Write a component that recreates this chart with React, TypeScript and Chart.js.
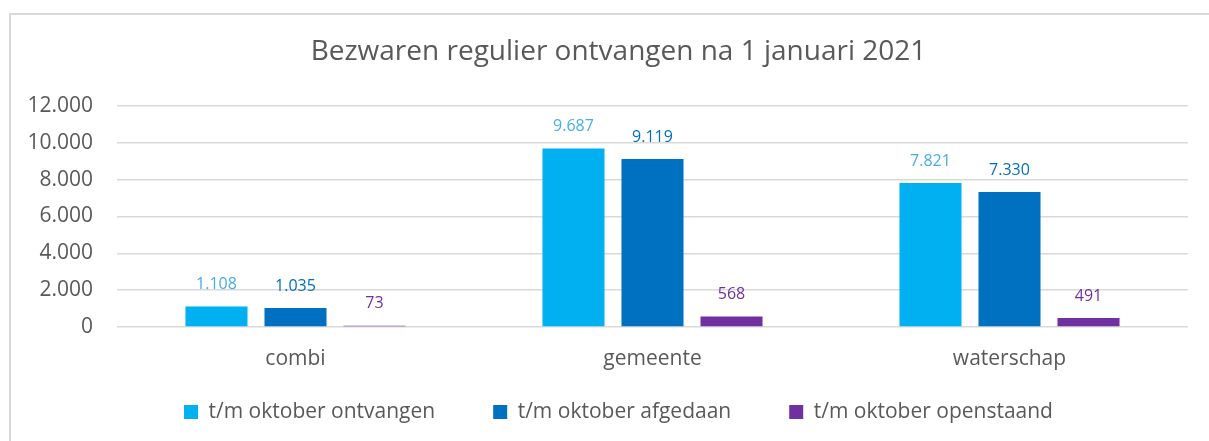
import React, { useEffect, useRef } from "react";
import { Chart, registerables } from "chart.js";

Chart.register(...registerables);

const categories = ["combi", "gemeente", "waterschap"];
const seriesNames = ["t/m oktober ontvangen", "t/m oktober afgedaan", "t/m oktober openstaand"];
const ontvangen = [1108, 9687, 7821];
const afgedaan = [1035, 9119, 7330];
const openstaand = [73, 568, 491];
const barColors = ["#00B0F0", "#0070C0", "#7030A0"];
const labelColors = ["#45AEE6", "#0070C0", "#7030A0"];
const titleText = "Bezwaren regulier ontvangen na 1 januari 2021";
const yMin = 0;
const yMax = 12000;
const yStep = 2000;

const fmt = (v: number) => String(Math.round(v)).replace(/\B(?=(\d{3})+(?!\d))/g, ".");

const FONT = "'Open Sans', sans-serif";
const TEXT = "#595959";

const dataLabelPlugin = {
  id: "dataLabels",
  afterDatasetsDraw(chart: any) {
    const ctx = chart.ctx;
    ctx.save();
    ctx.font = `16px ${FONT}`;
    ctx.textAlign = "center";
    ctx.textBaseline = "middle";
    chart.data.datasets.forEach((ds: any, i: number) => {
      const meta = chart.getDatasetMeta(i);
      meta.data.forEach((el: any, j: number) => {
        ctx.fillStyle = labelColors[i];
        ctx.fillText(fmt(ds.data[j]), el.x, el.y - 22);
      });
    });
    ctx.restore();
  },
};

export default function App() {
  const ref = useRef<HTMLCanvasElement>(null);
  useEffect(() => {
    document.body.style.overflow = "hidden";
    const seriesData = [ontvangen, afgedaan, openstaand];
    const chart = new Chart(ref.current as HTMLCanvasElement, {
      type: "bar",
      data: {
        labels: categories,
        datasets: seriesData.map((d, i) => ({
          label: seriesNames[i],
          data: d,
          backgroundColor: barColors[i],
          borderColor: barColors[i],
          borderWidth: 0,
          categoryPercentage: 0.664,
          barPercentage: 0.785,
        })),
      },
      options: {
        animation: false,
        responsive: false,
        devicePixelRatio: 1,
        layout: { padding: { left: 0, right: 0, top: 0, bottom: 8.5 } },
        plugins: {
          title: {
            display: true,
            text: titleText,
            color: TEXT,
            font: { family: FONT, size: 28, weight: "normal", lineHeight: 1.2 },
            padding: { top: 35, bottom: 37.4 },
          },
          legend: {
            position: "bottom",
            maxHeight: 90,
            labels: {
              boxWidth: 14,
              boxHeight: 14,
              padding: 58,
              color: TEXT,
              font: { family: FONT, size: 21 },
            },
          },
          tooltip: { enabled: false },
        },
        scales: {
          x: {
            grid: { display: false, drawTicks: false },
            border: { display: false },
            ticks: { color: TEXT, font: { family: FONT, size: 21 }, padding: -44.6, mirror: true },
            afterFit: (s: any) => {
              s.height = 16.5;
            },
          },
          y: {
            min: yMin,
            max: yMax,
            grid: { color: "#D9D9D9", lineWidth: 1.5, drawTicks: false },
            border: { display: false },
            ticks: {
              stepSize: yStep,
              color: TEXT,
              font: { family: FONT, size: 21 },
              padding: 24,
              callback: (v: any) => fmt(Number(v)),
            },
            afterFit: (s: any) => {
              s.width = 117;
            },
          },
          yRight: {
            type: "linear",
            position: "right",
            display: true,
            grid: { display: false, drawTicks: false },
            border: { display: false },
            ticks: { display: false },
            afterFit: (s: any) => {
              s.width = 49;
            },
          },
        },
      },
      plugins: [dataLabelPlugin],
    } as any);
    return () => chart.destroy();
  }, []);

  return (
    <>
      <div
        style={{
          position: "absolute",
          left: 9,
          top: 13,
          width: 1200,
          height: 428,
          boxSizing: "border-box",
          borderLeft: "2px solid #D9D9D9",
          borderTop: "2px solid #D9D9D9",
        }}
      />
      <div style={{ position: "absolute", left: 0, top: 0, width: 1209, height: 441, overflow: "hidden" }}>
        <canvas
          ref={ref}
          width={1237}
          height={441}
          style={{ display: "block", width: 1237, height: 441 }}
        />
      </div>
    </>
  );
}
